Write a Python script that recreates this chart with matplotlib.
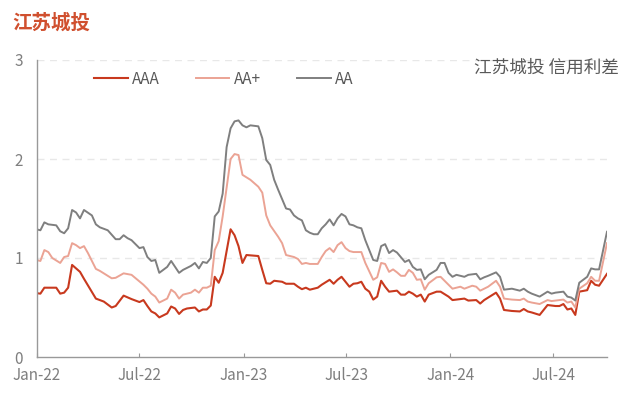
import numpy as np
import pandas as pd
import matplotlib
matplotlib.use("Agg")
import matplotlib.pyplot as plt

plt.rcParams['font.family'] = ['Noto Sans CJK SC', 'DejaVu Sans']

# ---- data (weeks since 2021-12-31, spread in %) ----
start_date = pd.Timestamp("2021-12-31")

aaa_weeks = [0, 1, 2, 5, 6, 7, 8, 9, 11, 12, 15, 17, 19, 20, 22, 24, 26, 27, 28, 29,
             30, 31, 33, 34, 35, 36, 37, 38, 40, 41, 42, 43, 44, 45, 46, 47, 49, 50, 51, 52,
             53, 56, 57, 58, 59, 60, 62, 63, 65, 66, 67, 68, 69, 70, 71, 72, 74, 75, 76, 77,
             78, 79, 80, 81, 82, 83, 84, 85, 86, 87, 88, 89, 91, 92, 93, 94, 95, 96, 97, 98,
             99, 101, 102, 104, 105, 106, 108, 109, 111, 112, 113, 114, 116, 117, 118, 120, 122, 123, 124, 125,
             127, 129, 131, 132, 133, 134, 135, 136, 137, 139, 140, 141, 142, 144]
aaa_vals = [0.645, 0.64, 0.70, 0.70, 0.64, 0.65, 0.70, 0.93, 0.86, 0.79, 0.59, 0.56, 0.50, 0.515, 0.62, 0.585, 0.555, 0.575, 0.515, 0.46,
            0.44, 0.40, 0.44, 0.51, 0.49, 0.435, 0.475, 0.49, 0.50, 0.46, 0.48, 0.48, 0.52, 0.81, 0.75, 0.85, 1.29, 1.23, 1.12, 0.95,
            1.03, 1.02, 0.88, 0.745, 0.74, 0.77, 0.76, 0.74, 0.74, 0.71, 0.685, 0.70, 0.68, 0.69, 0.70, 0.73, 0.78, 0.74, 0.78, 0.81,
            0.76, 0.71, 0.74, 0.745, 0.76, 0.69, 0.66, 0.58, 0.61, 0.77, 0.71, 0.66, 0.67, 0.63, 0.63, 0.66, 0.64, 0.61, 0.63, 0.56,
            0.63, 0.66, 0.66, 0.61, 0.575, 0.58, 0.59, 0.57, 0.575, 0.54, 0.575, 0.60, 0.65, 0.59, 0.475, 0.465, 0.46, 0.485, 0.46, 0.45,
            0.425, 0.525, 0.515, 0.515, 0.535, 0.48, 0.49, 0.425, 0.66, 0.675, 0.77, 0.73, 0.72, 0.84]

aap_weeks = [0, 1, 2, 3, 4, 6, 7, 8, 9, 10, 11, 12, 13, 15, 16, 19, 20, 22, 24, 27,
             28, 29, 30, 31, 33, 34, 35, 36, 37, 39, 40, 41, 42, 43, 44, 45, 46, 47, 49, 50,
             51, 52, 54, 56, 57, 58, 59, 61, 62, 63, 65, 66, 67, 68, 69, 71, 72, 73, 74, 75,
             76, 77, 78, 79, 80, 82, 83, 85, 86, 87, 88, 89, 90, 91, 92, 93, 94, 95, 96, 97,
             98, 99, 101, 102, 104, 105, 107, 108, 110, 111, 112, 114, 116, 117, 118, 120, 122, 123, 124, 125,
             127, 129, 130, 131, 133, 134, 135, 136, 137, 139, 140, 141, 142, 144]
aap_vals = [0.98, 0.97, 1.08, 1.06, 1.00, 0.95, 1.01, 1.02, 1.15, 1.13, 1.10, 1.12, 1.05, 0.89, 0.87, 0.795, 0.80, 0.845, 0.83, 0.73,
            0.69, 0.64, 0.61, 0.55, 0.59, 0.68, 0.65, 0.59, 0.63, 0.65, 0.68, 0.65, 0.70, 0.70, 0.72, 1.08, 1.17, 1.42, 2.00, 2.05,
            2.04, 1.84, 1.79, 1.72, 1.66, 1.43, 1.33, 1.215, 1.15, 1.03, 1.01, 0.99, 0.94, 0.95, 0.94, 0.94, 1.01, 1.07, 1.10, 1.06,
            1.13, 1.16, 1.10, 1.07, 1.06, 1.06, 0.95, 0.78, 0.805, 0.95, 0.94, 0.86, 0.885, 0.855, 0.82, 0.82, 0.88, 0.85, 0.78, 0.785,
            0.68, 0.745, 0.805, 0.81, 0.73, 0.69, 0.71, 0.69, 0.72, 0.71, 0.67, 0.71, 0.77, 0.71, 0.59, 0.58, 0.575, 0.59, 0.56, 0.55,
            0.535, 0.575, 0.565, 0.57, 0.58, 0.55, 0.56, 0.50, 0.69, 0.745, 0.81, 0.77, 0.77, 1.15]

aa_weeks = [0, 1, 2, 3, 5, 6, 7, 8, 9, 10, 11, 12, 14, 15, 16, 18, 20, 21, 22, 23,
            24, 26, 27, 28, 29, 30, 31, 33, 34, 35, 36, 37, 39, 40, 41, 42, 43, 44, 45, 46,
            47, 48, 49, 50, 51, 52, 53, 54, 56, 57, 58, 59, 60, 61, 63, 64, 65, 66, 67, 68,
            69, 70, 71, 72, 73, 74, 75, 76, 77, 78, 79, 80, 81, 82, 83, 85, 86, 87, 88, 89,
            90, 91, 93, 94, 95, 96, 97, 98, 99, 101, 102, 103, 104, 105, 106, 108, 109, 111, 112, 113,
            114, 116, 117, 118, 120, 122, 123, 124, 125, 127, 129, 130, 131, 133, 134, 135, 136, 137, 139, 140,
            141, 142, 144]
aa_vals = [1.29, 1.28, 1.36, 1.34, 1.33, 1.27, 1.25, 1.30, 1.485, 1.46, 1.40, 1.485, 1.43, 1.34, 1.31, 1.28, 1.19, 1.19, 1.23, 1.20,
           1.18, 1.10, 1.11, 1.01, 0.97, 0.98, 0.85, 0.91, 0.97, 0.91, 0.85, 0.88, 0.92, 0.95, 0.895, 0.96, 0.95, 1.00, 1.42, 1.47,
           1.65, 2.12, 2.31, 2.38, 2.39, 2.34, 2.32, 2.34, 2.33, 2.21, 1.99, 1.94, 1.79, 1.69, 1.50, 1.49, 1.43, 1.40, 1.38, 1.28,
           1.255, 1.24, 1.24, 1.30, 1.34, 1.39, 1.33, 1.40, 1.445, 1.42, 1.34, 1.33, 1.31, 1.30, 1.18, 0.98, 0.97, 1.12, 1.14, 1.05,
           1.08, 1.055, 0.96, 0.98, 0.91, 0.88, 0.885, 0.785, 0.83, 0.88, 0.95, 0.95, 0.85, 0.81, 0.83, 0.81, 0.83, 0.84, 0.785, 0.805,
           0.82, 0.855, 0.81, 0.68, 0.69, 0.67, 0.69, 0.66, 0.64, 0.61, 0.66, 0.64, 0.65, 0.66, 0.61, 0.60, 0.57, 0.75, 0.81, 0.895,
           0.885, 0.885, 1.265]

series_names = ["AAA", "AA+", "AA"]
tick_dates = ["2022-01-01", "2022-07-01", "2023-01-01", "2023-07-01", "2024-01-01", "2024-07-01"]
tick_labels = ["Jan-22", "Jul-22", "Jan-23", "Jul-23", "Jan-24", "Jul-24"]
y_ticks = [0, 1, 2, 3]
title_text = "江苏城投"
subtitle_text = "江苏城投 信用利差"

# ---- style ----
colors = ["#C8391E", "#EBA394", "#7F7F7F"]
widths = [1.5, 1.4, 1.4]
grey_txt = "#7F7F7F"

def to_dates(weeks):
    return start_date + pd.to_timedelta(np.array(weeks) * 7, unit="D")

fig = plt.figure(figsize=(6.2, 3.96), dpi=100)
ax = fig.add_axes([37 / 620, 1 - 357 / 396, (607 - 37) / 620, (357 - 60) / 396])

for (w, v), name, c, lw in zip([(aaa_weeks, aaa_vals), (aap_weeks, aap_vals), (aa_weeks, aa_vals)],
                               series_names, colors, widths):
    ax.plot(to_dates(w), v, color=c, lw=lw, label=name, solid_joinstyle="round")

ax.set_ylim(0, 3)
ax.set_xlim(pd.Timestamp("2022-01-01"), to_dates([144])[0])
ax.set_yticks(y_ticks)
ax.set_yticklabels([str(t) for t in y_ticks])
ax.set_xticks(pd.to_datetime(tick_dates))
ax.set_xticklabels(tick_labels)

for y in y_ticks[1:]:
    ax.axhline(y, color="#E8E8E8", lw=1.0, ls=(0, (5, 4)), zorder=0)

for s in ["top", "right"]:
    ax.spines[s].set_visible(False)
for s in ["left", "bottom"]:
    ax.spines[s].set_color("#999999")
    ax.spines[s].set_linewidth(1.0)

ax.tick_params(axis="x", direction="in", length=3, color="#999999", labelcolor=grey_txt,
               labelsize=11, pad=7.5)
ax.tick_params(axis="y", direction="in", length=0, color="#999999", labelcolor=grey_txt,
               labelsize=11, pad=10)

leg = ax.legend(loc="center left", bbox_to_anchor=((94 - 37) / 570, (357 - 79) / 297),
                ncol=3, frameon=False, fontsize=11, handlelength=2.2, handletextpad=0.3,
                columnspacing=2.35, borderpad=0, borderaxespad=0)
for t in leg.get_texts():
    t.set_color("#595959")

fig.text(12 / 620, 1 - 23 / 396, title_text, color="#D0502F", fontsize=14,
         ha="left", va="center", fontweight="bold")
fig.text(619 / 620, 1 - 68 / 396, subtitle_text, color="#595959", fontsize=12.7,
         ha="right", va="center")

fig.savefig("out.png", dpi=100)
